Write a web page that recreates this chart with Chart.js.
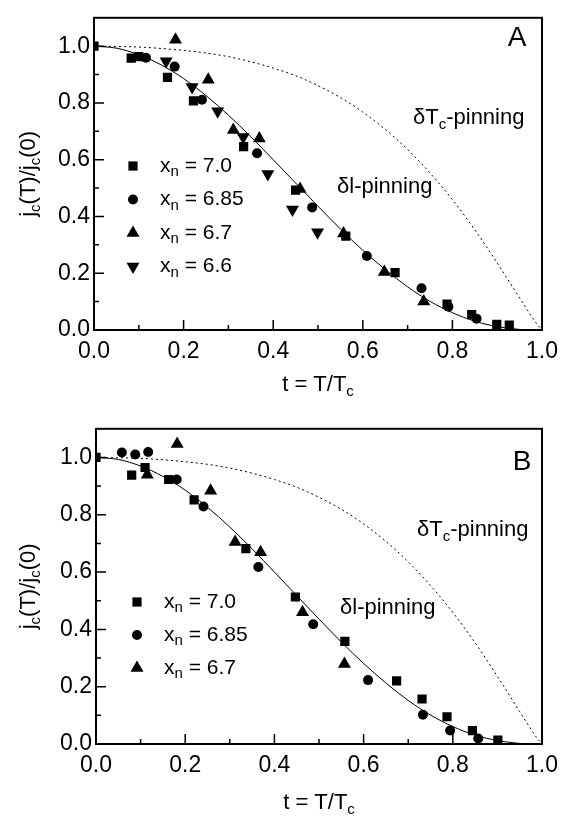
<!DOCTYPE html>
<html lang="en">
<head>
<meta charset="UTF-8">
<title>jc(T)/jc(0) versus T/Tc</title>
<script src="https://cdn.jsdelivr.net/npm/chart.js"></script>
<style>
  body { margin: 0; background: #fff; }
  .panel { position: absolute; left: 0; width: 566px; }
  #panelA { top: 0; height: 411px; }
  #panelB { top: 411px; height: 412px; }
</style>
</head>
<body>
<div class="panel" id="panelA"><canvas id="chartA"></canvas></div>
<div class="panel" id="panelB"><canvas id="chartB"></canvas></div>
<script>
// tick labels
const xTicks = [0, 0.2, 0.4, 0.6, 0.8, 1.0];
const yTicks = [0, 0.2, 0.4, 0.6, 0.8, 1.0];

// theory curves (same in both panels)
const curveT     = [0, 0.05, 0.1, 0.15, 0.2, 0.25, 0.3, 0.35, 0.4, 0.45, 0.5, 0.55, 0.6, 0.65, 0.7, 0.75, 0.8, 0.85, 0.9, 0.95, 0.975, 0.99, 1.0];
const dlPinning  = [1.0, 0.993, 0.970, 0.934, 0.886, 0.826, 0.757, 0.681, 0.600, 0.518, 0.436, 0.356, 0.281, 0.213, 0.152, 0.101, 0.061, 0.031, 0.012, 0.002, 0.0005, 0.0, 0.0];
const dTcPinning = [1.0, 0.999, 0.997, 0.992, 0.985, 0.976, 0.963, 0.945, 0.923, 0.896, 0.861, 0.819, 0.768, 0.707, 0.636, 0.553, 0.459, 0.353, 0.236, 0.113, 0.052, 0.018, 0.0];

// panel A measurements [t, jc(T)/jc(0)]
const aXn70  = [[0, 1.0], [0.083, 0.958], [0.10, 0.963], [0.164, 0.89], [0.222, 0.807], [0.334, 0.646], [0.45, 0.493], [0.562, 0.331], [0.672, 0.202], [0.788, 0.091], [0.843, 0.054], [0.899, 0.02], [0.927, 0.017]];
const aXn685 = [[0.116, 0.959], [0.18, 0.928], [0.241, 0.811], [0.364, 0.623], [0.487, 0.432], [0.609, 0.261], [0.731, 0.147], [0.791, 0.082], [0.854, 0.04]];
const aXn67  = [[0.182, 1.023], [0.255, 0.882], [0.311, 0.705], [0.369, 0.675], [0.46, 0.497], [0.557, 0.34], [0.648, 0.204], [0.736, 0.10]];
const aXn66  = [[0.161, 0.947], [0.219, 0.856], [0.276, 0.771], [0.333, 0.68], [0.388, 0.55], [0.443, 0.425], [0.499, 0.344]];

// panel B measurements
const bXn70  = [[0, 1.0], [0.08, 0.938], [0.11, 0.965], [0.163, 0.923], [0.22, 0.852], [0.336, 0.682], [0.447, 0.513], [0.558, 0.358], [0.674, 0.22], [0.731, 0.157], [0.787, 0.095], [0.844, 0.047], [0.901, 0.014]];
const bXn685 = [[0.058, 1.017], [0.088, 1.01], [0.117, 1.019], [0.181, 0.923], [0.241, 0.829], [0.364, 0.618], [0.487, 0.418], [0.61, 0.223], [0.733, 0.102], [0.794, 0.047], [0.857, 0.019]];
const bXn67  = [[0.115, 0.94], [0.182, 1.047], [0.257, 0.884], [0.312, 0.705], [0.369, 0.669], [0.463, 0.46], [0.557, 0.279]];

const FONT = '"Liberation Sans", Arial, Helvetica, sans-serif';

const markers = {
    '7.0':  { style: 'rect', radius: 6.5, rotation: 0 },
    '6.85': { style: 'circle', radius: 5, rotation: 0 },
    '6.7':  { style: 'triangle', radius: 7.5, rotation: 0 },
    '6.6':  { style: 'triangle', radius: 7.5, rotation: 180 }
};

// draw text made of pieces, some of them subscripts
function richText(ctx, parts, x, y, size, align) {
    let w = 0;
    parts.forEach(p => {
        ctx.font = (p.sub ? Math.round(size * 0.7) : size) + 'px ' + FONT;
        p.w = ctx.measureText(p.t).width;
        w += p.w;
    });
    let cx = align === 'center' ? x - w / 2 : x;
    ctx.textAlign = 'left';
    ctx.textBaseline = 'middle';
    parts.forEach(p => {
        ctx.font = (p.sub ? Math.round(size * 0.7) : size) + 'px ' + FONT;
        ctx.fillText(p.t, cx, p.sub ? y + size * 0.3 : y);
        cx += p.w;
    });
}

function drawMarker(ctx, m, x, y) {
    ctx.save();
    ctx.fillStyle = '#000';
    ctx.beginPath();
    if (m.style === 'rect') {
        const s = Math.SQRT1_2 * m.radius;
        ctx.rect(x - s, y - s, 2 * s, 2 * s);
    } else if (m.style === 'circle') {
        ctx.arc(x, y, m.radius, 0, Math.PI * 2);
    } else {
        let rad = m.rotation * Math.PI / 180;
        for (let i = 0; i < 3; i++) {
            const px = x + Math.sin(rad) * m.radius, py = y - Math.cos(rad) * m.radius;
            if (i === 0) ctx.moveTo(px, py); else ctx.lineTo(px, py);
            rad += 2 * Math.PI / 3;
        }
        ctx.closePath();
    }
    ctx.fill();
    ctx.restore();
}

function makePanel(canvasId, panel) {
    const decor = {
        id: 'decor',
        afterDraw(chart) {
            const ctx = chart.ctx;
            const a = chart.chartArea;
            const xs = chart.scales.x, ys = chart.scales.y;
            ctx.save();
            ctx.strokeStyle = '#000';
            ctx.lineWidth = 2;
            ctx.strokeRect(a.left, a.top, a.right - a.left, a.bottom - a.top);
            // inward ticks, minor every 0.1
            ctx.lineWidth = 1.5;
            ctx.beginPath();
            for (let i = 1; i <= 10; i++) {
                const len = i % 2 === 0 ? 10 : 5;
                const px = xs.getPixelForValue(i / 10);
                ctx.moveTo(px, a.bottom);
                ctx.lineTo(px, a.bottom - len);
                const py = ys.getPixelForValue(i / 10);
                ctx.moveTo(a.left, py);
                ctx.lineTo(a.left + len, py);
            }
            ctx.stroke();
            ctx.fillStyle = '#000';
            // axis titles
            richText(ctx, [{t: 't = T/T'}, {t: 'c', sub: true}], (a.left + a.right) / 2, panel.xTitleY, 22, 'center');
            ctx.save();
            ctx.translate(panel.yTitleX, (a.top + a.bottom) / 2);
            ctx.rotate(-Math.PI / 2);
            richText(ctx, [{t: 'j'}, {t: 'c', sub: true}, {t: '(T)/j'}, {t: 'c', sub: true}, {t: '(0)'}], 0, 0, 22, 'center');
            ctx.restore();
            // panel letter and curve names
            ctx.font = '28px ' + FONT;
            ctx.textAlign = 'center';
            ctx.textBaseline = 'middle';
            ctx.fillText(panel.letter, panel.letterPos[0], panel.letterPos[1]);
            richText(ctx, [{t: '\u03B4T'}, {t: 'c', sub: true}, {t: '-pinning'}], panel.dTcPos[0], panel.dTcPos[1], 22, 'left');
            richText(ctx, [{t: '\u03B4l-pinning'}], panel.dlPos[0], panel.dlPos[1], 22, 'left');
            // legend
            panel.series.forEach((s, i) => {
                const y = panel.legend.y0 + i * panel.legend.dy;
                drawMarker(ctx, markers[s.label], panel.legend.x, y);
                richText(ctx, [{t: 'x'}, {t: 'n', sub: true}, {t: ' = ' + s.label}], panel.legend.x + 27, y, 21, 'left');
            });
            ctx.restore();
        }
    };

    const datasets = [
        {
            data: curveT.map((t, i) => ({x: t, y: dlPinning[i]})),
            showLine: true, borderColor: '#000', borderWidth: 1, pointRadius: 0,
            cubicInterpolationMode: 'monotone'
        },
        {
            data: curveT.map((t, i) => ({x: t, y: dTcPinning[i]})),
            showLine: true, borderColor: '#000', borderWidth: 1, borderDash: [2, 3], pointRadius: 0,
            cubicInterpolationMode: 'monotone'
        }
    ];
    panel.series.forEach(s => {
        const m = markers[s.label];
        datasets.push({
            label: 'xn = ' + s.label,
            data: s.data.map(p => ({x: p[0], y: p[1]})),
            pointStyle: m.style,
            pointRadius: m.radius,
            pointRotation: m.rotation,
            backgroundColor: '#000',
            borderColor: '#000',
            borderWidth: 0
        });
    });

    const tickFont = {family: FONT, size: 23};
    return new Chart(document.getElementById(canvasId), {
        type: 'scatter',
        data: {datasets: datasets},
        options: {
            responsive: true,
            maintainAspectRatio: false,
            animation: false,
            layout: {padding: {top: panel.padTop, right: panel.padRight, left: 0, bottom: 0}},
            plugins: {legend: {display: false}, tooltip: {enabled: false}},
            scales: {
                x: {
                    type: 'linear', min: 0, max: 1,
                    afterBuildTicks: s => { s.ticks = xTicks.map(v => ({value: v})); },
                    afterFit: s => { s.height = panel.xAxisH; },
                    ticks: {font: tickFont, color: '#000', padding: 8, maxRotation: 0,
                            callback: v => v.toFixed(1)},
                    grid: {display: false, drawTicks: false},
                    border: {display: false}
                },
                y: {
                    type: 'linear', min: 0, max: 1.1,
                    afterBuildTicks: s => { s.ticks = yTicks.map(v => ({value: v})); },
                    afterFit: s => { s.width = panel.yAxisW; },
                    ticks: {font: tickFont, color: '#000', padding: 4,
                            callback: v => v.toFixed(1)},
                    grid: {display: false, drawTicks: false},
                    border: {display: false}
                }
            }
        },
        plugins: [decor]
    });
}

makePanel('chartA', {
    letter: 'A', letterPos: [517, 38],
    dTcPos: [413, 118], dlPos: [337, 187],
    legend: {x: 133, y0: 166, dy: 33.5},
    xTitleY: 385, yTitleX: 29,
    padTop: 7, padRight: 18, yAxisW: 94, xAxisH: 81,
    series: [{label: '7.0', data: aXn70}, {label: '6.85', data: aXn685},
             {label: '6.7', data: aXn67}, {label: '6.6', data: aXn66}]
});

makePanel('chartB', {
    letter: 'B', letterPos: [522, 51],
    dTcPos: [417, 119], dlPos: [340, 197],
    legend: {x: 137, y0: 191, dy: 33},
    xTitleY: 392, yTitleX: 29,
    padTop: 7, padRight: 16, yAxisW: 96, xAxisH: 79,
    series: [{label: '7.0', data: bXn70}, {label: '6.85', data: bXn685},
             {label: '6.7', data: bXn67}]
});
</script>
</body>
</html>
